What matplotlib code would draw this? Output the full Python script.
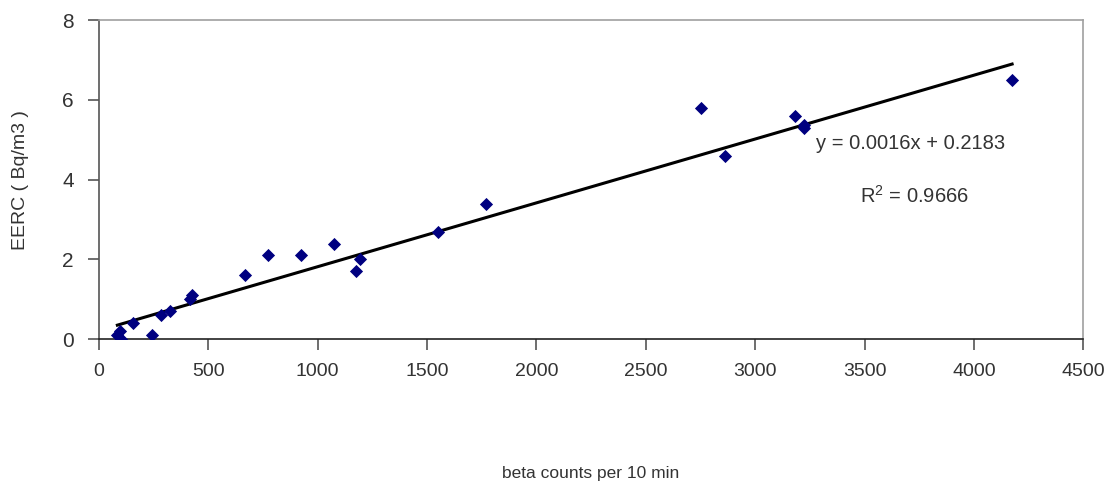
import numpy as np
import matplotlib.pyplot as plt

plt.rcParams['font.family'] = ['Liberation Sans', 'DejaVu Sans']

# beta counts per 10 min and the matching EERC values
counts = np.array([85, 97, 101, 155, 243, 283, 326, 417, 425, 669, 775, 923,
                   1075, 1176, 1193, 1551, 1771, 2752, 2862, 3183, 3223, 3223, 4174])
eerc = np.array([0.1, 0.2, 0.0, 0.4, 0.1, 0.6, 0.7, 1.0, 1.1, 1.6, 2.1, 2.1,
                 2.4, 1.7, 2.0, 2.7, 3.4, 5.8, 4.6, 5.6, 5.37, 5.3, 6.5])

# linear trend line
slope = 0.0016
intercept = 0.2183
r2 = 0.9666

txt = '#333333'

fig = plt.figure(figsize=(11.11, 4.87), dpi=100)
ax = fig.add_axes([0.0889, 0.3033, 0.8863, 0.6556])

ax.scatter(counts, eerc, marker='D', s=45, color='#000080', zorder=3, linewidths=0)

xs = np.array([counts.min(), counts.max()])
ax.plot(xs, slope * xs + intercept, color='black', lw=2.2, zorder=2)

ax.set_xlim(0, 4500)
ax.set_ylim(0, 8)
ax.set_xticks(np.arange(0, 4501, 500))
ax.set_yticks(np.arange(0, 9, 2))

for side in ['top', 'right']:
    ax.spines[side].set_color('#a0a0a0')
    ax.spines[side].set_linewidth(1.2)
ax.spines['left'].set_color('#555555')
ax.spines['left'].set_linewidth(1.2)
ax.spines['bottom'].set_color('#222222')
ax.spines['bottom'].set_linewidth(1.2)

ax.tick_params(axis='x', direction='out', length=8, width=1.2, color='#555555',
               pad=9, labelsize=14, labelcolor=txt)
ax.tick_params(axis='y', direction='out', length=8, width=1.2, color='#555555',
               pad=10, labelsize=15, labelcolor=txt)

ax.set_xlabel('beta counts per 10 min', fontsize=12.5, color=txt, labelpad=62)
ax.set_ylabel('EERC ( Bq/m3 )', fontsize=14, color=txt, labelpad=24)

ax.text(3280, 4.9, 'y = %.4fx + %.4f' % (slope, intercept), fontsize=14.5, color=txt,
        va='center', ha='left')
ax.text(3480, 3.6, '$\\mathregular{R^2}$ = %.4f' % r2, fontsize=14.5, color=txt,
        va='center', ha='left')

fig.savefig('out.png', dpi=100)
